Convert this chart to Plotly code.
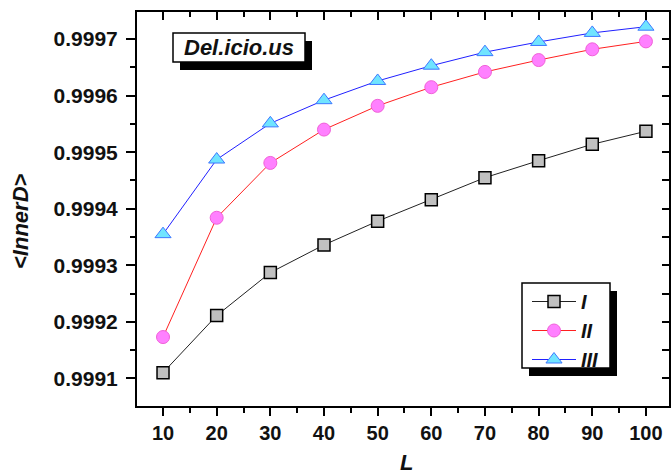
import plotly.graph_objects as go

# Chain length L and mean inner-degree values for the three strategies
L_VALUES = [10, 20, 30, 40, 50, 60, 70, 80, 90, 100]
SERIES_I = [0.999110, 0.999211, 0.999287, 0.999336, 0.999378,
            0.999416, 0.999455, 0.999485, 0.999514, 0.999537]
SERIES_II = [0.999173, 0.999384, 0.999481, 0.999540, 0.999582,
             0.999615, 0.999642, 0.999663, 0.999682, 0.999696]
SERIES_III = [0.999355, 0.999487, 0.999551, 0.999592, 0.999626,
              0.999653, 0.999677, 0.999695, 0.999711, 0.999722]
SERIES_NAMES = ["I", "II", "III"]
DATASET_LABEL = "Del.icio.us"
X_TITLE = "L"
Y_TITLE = "<InnerD>"

FONT = "Liberation Sans, Arial, sans-serif"

# plot-area edges in pixels (used to place the decorative boxes)
W, H = 671, 476
PL, PR, PT, PB = 137, 669, 12, 406


def fx(p):
    return (p - PL) / (PR - PL)


def fy(p):
    return (PB - p) / (PB - PT)


fig = go.Figure()

styles = [
    dict(line=dict(color="#222222", width=1),
         marker=dict(symbol="square", size=12, color="#C0C0C0",
                     line=dict(color="#000000", width=1.5))),
    dict(line=dict(color="#FF2020", width=1),
         marker=dict(symbol="circle", size=13, color="#FF80FF",
                     line=dict(color="#F060D8", width=1))),
    dict(line=dict(color="#2020FF", width=1),
         marker=dict(symbol="triangle-up", size=14, color="#70E4FF",
                     line=dict(color="#3C78FF", width=1))),
]

# series I sits on the mirrored (top/right) axes so that frame gets drawn;
# both axis pairs share identical ranges
axis_pairs = [("x2", "y2"), ("x", "y"), ("x", "y")]

for name, ys, st, (xa, ya) in zip(SERIES_NAMES, [SERIES_I, SERIES_II, SERIES_III],
                                  styles, axis_pairs):
    fig.add_trace(go.Scatter(
        x=L_VALUES, y=ys, mode="lines+markers",
        name=f"<b><i>{name}</i></b>",
        line=st["line"], marker=st["marker"],
        xaxis=xa, yaxis=ya,
    ))

x_range = [5.15, 104.3]
y_range = [0.999051, 0.999748]

tick_font = dict(family=FONT, size=20, color="#111111", weight="bold")

fig.update_layout(
    width=W, height=H,
    margin=dict(l=PL, r=W - PR, t=PT, b=H - PB),
    paper_bgcolor="white", plot_bgcolor="white",
    showlegend=True,
    legend=dict(
        x=fx(527), y=fy(282), xanchor="left", yanchor="top",
        bgcolor="rgba(0,0,0,0)", borderwidth=0,
        font=dict(family=FONT, size=20, color="#111111"),
        itemwidth=44, tracegroupgap=0,
    ),
    xaxis=dict(
        range=x_range, tickmode="linear", tick0=10, dtick=10,
        showgrid=False, zeroline=False,
        showline=True, linecolor="black", linewidth=2,
        ticks="outside", ticklen=8, tickwidth=1.5, tickcolor="black",
        minor=dict(ticks="outside", ticklen=5, tickwidth=1.5,
                   tickcolor="black", dtick=5, tick0=5),
        tickfont=tick_font,
    ),
    yaxis=dict(
        range=y_range, tickmode="linear", tick0=0.9991, dtick=0.0001,
        tickformat=".4f",
        showgrid=False, zeroline=False,
        showline=True, linecolor="black", linewidth=2,
        ticks="outside", ticklen=9, tickwidth=1.5, tickcolor="black",
        minor=dict(ticks="outside", ticklen=5, tickwidth=1.5,
                   tickcolor="black", dtick=0.00005),
        tickfont=dict(family=FONT, size=21, color="#111111", weight="bold"),
        ticklabelstandoff=4,
    ),
    xaxis2=dict(
        range=x_range, overlaying="x", anchor="y2", side="top",
        tickmode="linear", tick0=10, dtick=10, showticklabels=False,
        showgrid=False, zeroline=False,
        showline=True, linecolor="black", linewidth=2,
        ticks="inside", ticklen=8, tickwidth=1.5, tickcolor="black",
        minor=dict(ticks="inside", ticklen=5, tickwidth=1.5,
                   tickcolor="black", dtick=5, tick0=5),
    ),
    yaxis2=dict(
        range=y_range, overlaying="y", anchor="x2", side="right",
        tickmode="linear", tick0=0.9991, dtick=0.0001, showticklabels=False,
        showgrid=False, zeroline=False,
        showline=True, linecolor="black", linewidth=2,
        ticks="inside", ticklen=7, tickwidth=1.5, tickcolor="black",
        minor=dict(ticks="inside", ticklen=7, tickwidth=1.5,
                   tickcolor="black", dtick=0.00005),
    ),
)

# dataset label box and legend box, each with a drop shadow
boxes = [
    (173, 33, 305, 62),   # label box
    (522, 283, 610, 368),  # legend box
]
shapes = []
for (x0, y0, x1, y1) in boxes:
    shapes.append(dict(type="rect", xref="paper", yref="paper",
                       x0=fx(x0 + 7), x1=fx(x1 + 7), y0=fy(y0 + 8), y1=fy(y1 + 8),
                       fillcolor="black", line=dict(width=0), layer="above"))
    shapes.append(dict(type="rect", xref="paper", yref="paper",
                       x0=fx(x0), x1=fx(x1), y0=fy(y0), y1=fy(y1),
                       fillcolor="white", line=dict(color="black", width=1.5),
                       layer="above"))
fig.update_layout(shapes=shapes)

fig.add_annotation(
    x=fx(239), y=fy(47.5), xref="paper", yref="paper",
    xanchor="center", yanchor="middle", showarrow=False,
    text=f"<b><i>{DATASET_LABEL}</i></b>",
    font=dict(family=FONT, size=22, color="#111111"),
)
fig.add_annotation(
    x=fx(406), y=fy(462), xref="paper", yref="paper",
    xanchor="center", yanchor="middle", showarrow=False,
    text=f"<b><i>{X_TITLE}</i></b>",
    font=dict(family=FONT, size=22, color="#111111"),
)
fig.add_annotation(
    x=fx(20), y=fy(221), xref="paper", yref="paper",
    xanchor="center", yanchor="middle", showarrow=False, textangle=-90,
    text="<b><i>" + Y_TITLE.replace("<", "&lt;").replace(">", "&gt;") + "</i></b>",
    font=dict(family=FONT, size=22, color="#111111"),
)

fig.write_html("out.html")
